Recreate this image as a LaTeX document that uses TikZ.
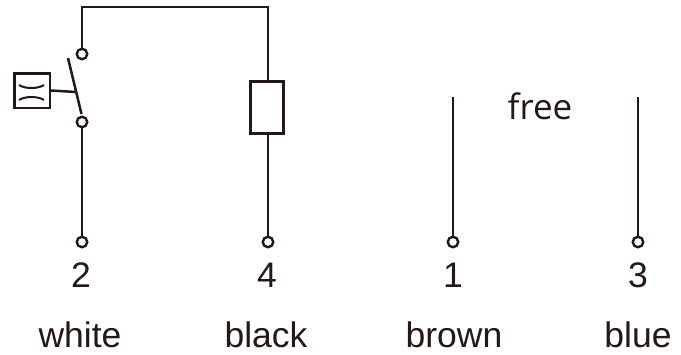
\documentclass[tikz,border=0pt]{standalone}
\usepackage{fontspec}
\setmainfont{Liberation Sans}
\newfontfamily\freefont{Open Sans}
\definecolor{ink}{HTML}{231815}
\tikzset{
  wire/.style={draw=ink,line width=2.5pt},
  term/.style={circle,draw=ink,line width=2.4pt,fill=white,minimum size=10.5pt,inner sep=0pt},
  lbl/.style={text=ink,inner sep=0pt,font=\fontsize{35.5pt}{36pt}\selectfont,anchor=base},
  comp/.style={draw=ink,line width=2.5pt,fill=white,inner sep=0pt},
  glyph/.style={draw=ink,line width=2pt}
}
\begin{document}
\begin{tikzpicture}[x=1pt,y=-1pt]
\useasboundingbox (0,0) rectangle (681,354);
\node[term] (t2a) at (82,54) {};
\node[term] (t2b) at (82,122) {};
\node[term] (t2) at (82,242) {};
\node[term] (t4) at (268,242) {};
\node[term] (t1) at (453,242) {};
\node[term] (t3) at (638,242) {};
\node[comp,minimum width=33pt,minimum height=52pt] (load) at (267,107.5) {};
\node[comp,minimum width=35.5pt,minimum height=34.5pt] (act) at (32,90.5) {};
\coordinate (c1) at (82,7);
\coordinate (c2) at (268,7);
\coordinate (f1) at (453,97);
\coordinate (f3) at (638,97);
\coordinate (armtop) at (68,58);
\coordinate (armend) at (81.5,114);
\coordinate (armmid) at (76,92);
\draw[wire,line cap=rect] (t2a) -- (c1) -- (c2) -- (load.north -| c2);
\draw[wire] (load.south -| c2) -- (t4);
\draw[wire] (t2b) -- (t2);
\draw[wire] (f1) -- (t1);
\draw[wire] (f3) -- (t3);
\draw[wire] (armtop) -- (armend);
\draw[wire] (act.east) -- (armmid);
\draw[glyph] (19,85) .. controls (25,89) and (38,89) .. (44,85);
\draw[glyph] (19,100) .. controls (25,96) and (38,96) .. (44,100);
\node[lbl] (n2) at (81,287) {2};
\node[lbl] (n4) at (267,287) {4};
\node[lbl] (n1) at (453,287) {1};
\node[lbl] (n3) at (638,287) {3};
\node[lbl] (w) at (80,347) {white};
\node[lbl] (k) at (266,347) {black};
\node[lbl] (b) at (454,347) {brown};
\node[lbl] (u) at (638,347) {blue};
\node[lbl,font=\freefont\fontsize{35pt}{36pt}\selectfont] (fr) at (540,119) {free};
\end{tikzpicture}
\end{document}
